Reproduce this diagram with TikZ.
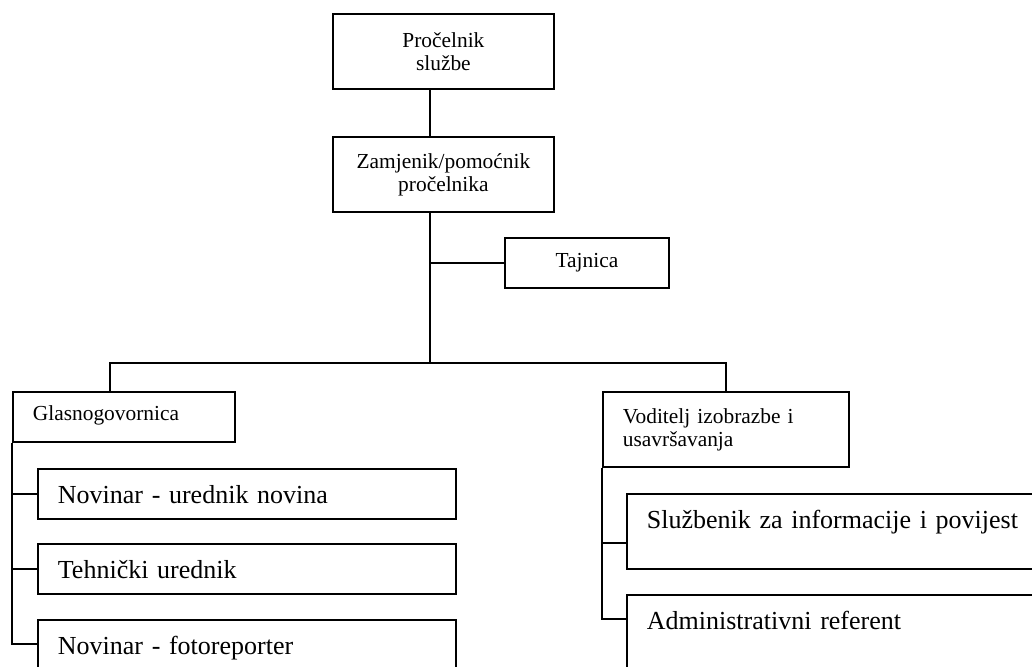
\documentclass[tikz,border=0pt]{standalone}
\usepackage{fontspec}
\setmainfont{Liberation Serif}
\newcommand{\smalltxt}{\fontsize{10.7}{11.5}\selectfont}
\newcommand{\bigtxt}{\fontsize{13}{16}\selectfont}
\begin{document}
\begin{tikzpicture}[x=0.5pt,y=-0.5pt,
		box/.style={draw,line width=0.9pt,anchor=north west},
		head/.style={box,font=\smalltxt,align=center,minimum width=110.5pt,minimum height=37.5pt},
		group/.style={box,font=\smalltxt,align=left,inner xsep=10pt,inner ysep=0pt},
		post/.style={box,font=\bigtxt,align=left,inner xsep=10pt,inner ysep=0pt,text height=17.5pt,text depth=#1},
		post/.default=7.5pt,
		link/.style={line width=0.9pt}]
			\useasboundingbox (0,0) rectangle (1032,666);
			\clip (0,0) rectangle (1032,666);
			\node[head] (sluzbe) at (332,13) {Pročelnik\\službe};
			\node[head] (zamjenik) at (332,136) {Zamjenik/pomoćnik\\pročelnika};
			\node[head,minimum width=82pt,minimum height=25pt] (tajnica) at (504,237) {Tajnica};
			\node[group,text width=91pt,text height=14.5pt,text depth=10.5pt] (glasno) at (12,391) {Glasnogovornica};
			\node[group,text width=103pt,minimum height=37.5pt] (voditelj) at (602,391) {Voditelj izobrazbe i\\usavršavanja};
			\node[post,text width=189pt] (urednik) at (37,468) {Novinar - urednik novina};
			\node[post,text width=189pt] (tehnicki) at (37,543) {Tehnički urednik};
			\node[post=20pt,text width=189pt] (foto) at (37,619) {Novinar - fotoreporter};
			\node[post=20pt,text width=190pt] (sluzbenik) at (626,493) {Službenik za informacije i povijest};
			\node[post=20pt,text width=190pt] (admin) at (626,594) {Administrativni referent};
			\coordinate (split) at (430,363);
			\coordinate (left) at (110,363);
			\coordinate (foto in) at ([yshift=-12.5pt]foto.north west);
			\coordinate (sluzbenik in) at ([yshift=-25pt]sluzbenik.north west);
			\coordinate (admin in) at ([yshift=-12.5pt]admin.north west);
			\draw[link] (sluzbe.south -| split) -- (zamjenik.north -| split);
			\draw[link] (zamjenik.south -| split) -- (split);
			\draw[link] (tajnica.west) -- (tajnica.west -| split);
			\draw[link] (glasno.north -| left) -- (left) -- (voditelj.north |- split) -- (voditelj.north);
			\draw[link] (glasno.south west) |- (foto in);
			\draw[link] (glasno.south west |- urednik.west) -- (urednik.west);
			\draw[link] (glasno.south west |- tehnicki.west) -- (tehnicki.west);
			\draw[link] (voditelj.south west) |- (admin in);
			\draw[link] (sluzbenik in -| voditelj.south west) -- (sluzbenik in);
		\end{tikzpicture}
\end{document}
